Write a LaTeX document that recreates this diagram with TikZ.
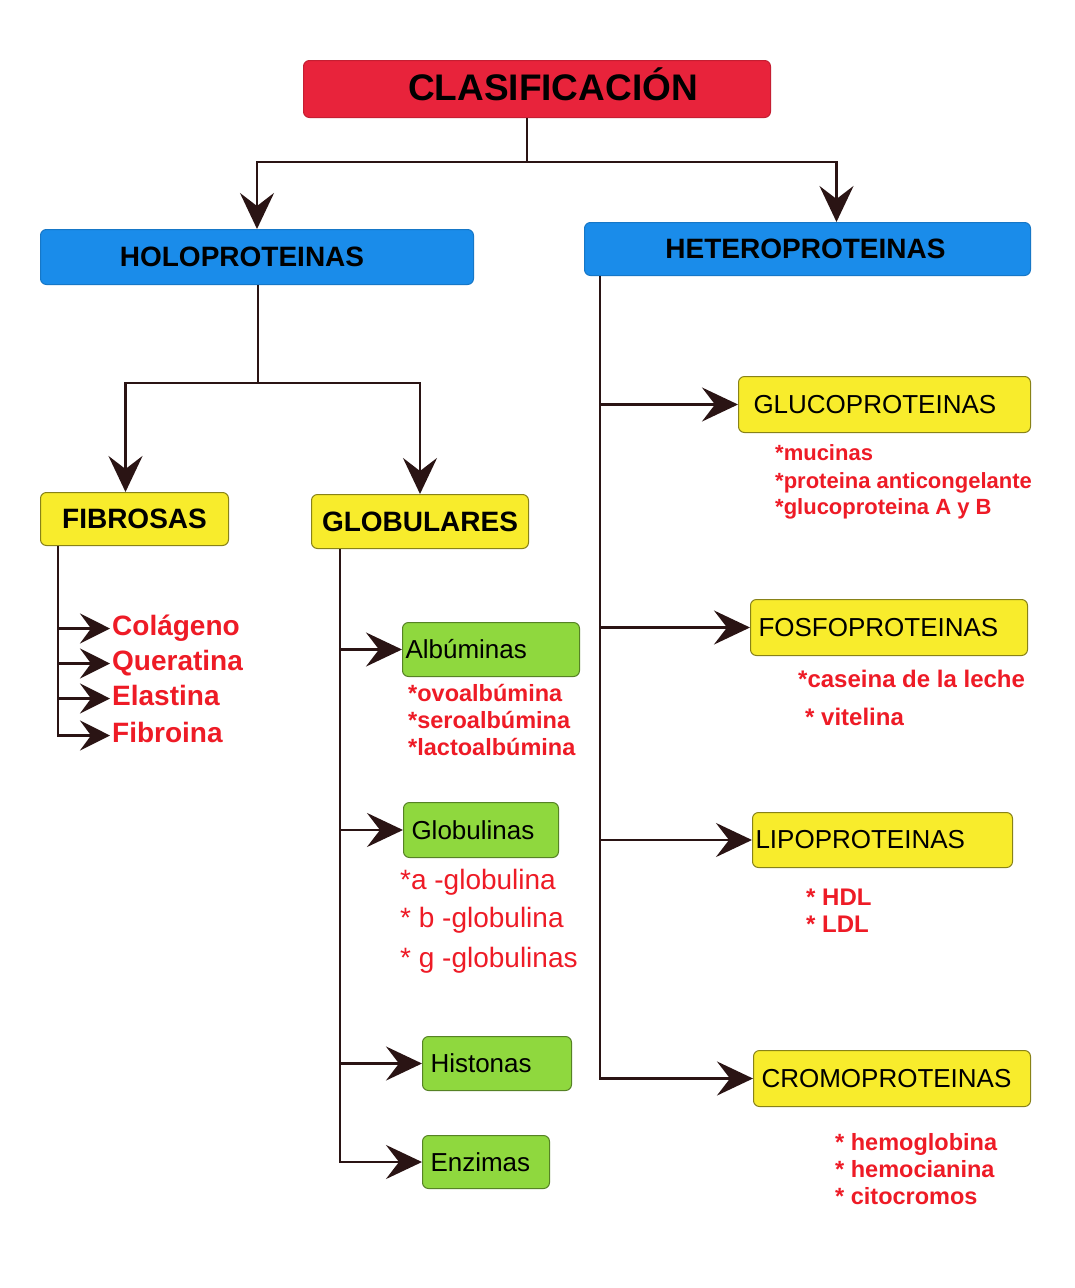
\documentclass[tikz,border=0pt]{standalone}
\usepackage{fontspec}
\setmainfont{Liberation Sans}
\usetikzlibrary{arrows.meta}

\definecolor{titlered}{HTML}{E8233B}
\definecolor{headblue}{HTML}{1A8CEA}
\definecolor{boxyellow}{HTML}{F8EC2C}
\definecolor{boxgreen}{HTML}{8FD83E}
\definecolor{itemred}{HTML}{EE1B26}
\definecolor{linedark}{HTML}{2A1414}

\tikzset{
    conn/.style={line width=2.8pt, draw=linedark},
    arr/.style={conn, -{Stealth[length=36pt,width=34pt,inset=13pt]}},
    smallarr/.style={conn, -{Stealth[length=30pt,width=30pt,inset=11pt]}},
    box/.style={rounded corners=6pt, anchor=north west, inner sep=0pt, line width=1pt},
    titlebox/.style={box, fill=titlered, draw=titlered!85!black,
        text height=26pt, text depth=3pt,
        font=\bfseries\fontsize{37}{40}\selectfont},
    headbox/.style={box, fill=headblue, draw=headblue!85!black,
        font=\bfseries\fontsize{28}{30}\selectfont},
    ybox/.style={box, fill=boxyellow, draw=boxyellow!55!black, inner xsep=8pt,
        align=left, font=\fontsize{26}{28}\selectfont},
    ybold/.style={box, fill=boxyellow, draw=boxyellow!55!black,
        font=\bfseries\fontsize{28}{30}\selectfont},
    gbox/.style={box, fill=boxgreen, draw=boxgreen!60!black, inner xsep=8pt,
        align=left, font=\fontsize{26}{28}\selectfont},
    bigitem/.style={anchor=base west, inner sep=2pt, text=itemred, text height=18pt,
        text depth=5pt, font=\bfseries\fontsize{28}{30}\selectfont},
    item/.style={anchor=base west, inner sep=0pt, text=itemred,
        font=\bfseries\fontsize{#1}{#1}\selectfont},
    item/.default=22,
    greekitem/.style={anchor=base west, inner sep=0pt, text=itemred,
        font=\fontsize{28}{30}\selectfont}
}

\begin{document}
\begin{tikzpicture}[x=1pt, y=-1pt]
    \useasboundingbox[fill=white] (0,0) rectangle (1075,1288);

    % top level
    \node[titlebox, minimum width=467, minimum height=57] (title) at (303,60)
        {\hspace*{32pt}CLASIFICACIÓN};
    \node[headbox, minimum width=433, minimum height=55] (holo) at (40,229)
        {HOLOPROTEINAS\hspace*{30pt}};
    \node[headbox, minimum width=446, minimum height=53] (het) at (584,222)
        {HETEROPROTEINAS\hspace*{4pt}};
    \coordinate (split) at (527,162);
    \draw[conn] (split |- title.south) -- (split);
    \draw[arr] (split) -| (holo.north);
    \draw[arr] (split) -| ([xshift=29pt]het.north);

    % holoproteinas
    \node[ybold, minimum width=188, minimum height=53] (fib) at (40,492) {FIBROSAS};
    \node[ybold, minimum width=217, minimum height=54] (glob) at (311,494) {GLOBULARES};
    \coordinate (holojoin) at (258,383);
    \draw[conn] (holojoin |- holo.south) -- (holojoin);
    \draw[arr] (holojoin) -| ([xshift=-9pt]fib.north);
    \draw[arr] (holojoin) -| (glob.north);

    % fibrosas
    \foreach \name/\txt/\y in {col/Colágeno/635, que/Queratina/670,
                               ela/Elastina/705, fibr/Fibroina/742}{
        \node[bigitem] (\name) at (110,\y) {\txt};
    }
    \coordinate (fibtop) at ([xshift=18pt]fib.south west);
    \foreach \n in {col,que,ela,fibr}
        \draw[smallarr] (fibtop) |- (\n.west);

    % globulares
    \node[gbox, inner xsep=3pt, text width=171, minimum height=54] (alb) at (402,622)
        {Albúminas};
    \node[gbox, text width=139, minimum height=55] (glo) at (403,802) {Globulinas};
    \node[gbox, text width=133, minimum height=54] (his) at (422,1036) {Histonas};
    \node[gbox, text width=111, minimum height=53] (enz) at (422,1135) {Enzimas};
    \coordinate (globtop) at ([xshift=29pt]glob.south west);
    \foreach \n in {alb,glo,his,enz}
        \draw[arr] (globtop) |- (\n.west);

    \foreach[count=\i] \txt/\y in {*ovoalbúmina/701, *seroalbúmina/728,
                                   *lactoalbúmina/755}{
        \node[item=23.5] (alb\i) at (408,\y) {\txt};
    }
    \node[greekitem] (glo1) at (400,889) {*a -globulina};
    \node[greekitem] (glo2) at (400,927) {* b -globulina};
    \node[greekitem] (glo3) at (400,967) {* g -globulinas};

    % heteroproteinas
    \node[ybox, inner xsep=15pt, text width=262, minimum height=56] (gluc) at (738,376)
        {GLUCOPROTEINAS};
    \node[ybox, text width=261, minimum height=56] (fosf) at (750,599) {FOSFOPROTEINAS};
    \node[ybox, inner xsep=3pt, text width=254, minimum height=55] (lipo) at (752,812)
        {LIPOPROTEINAS};
    \node[ybox, text width=261, minimum height=56] (crom) at (753,1050) {CROMOPROTEINAS};
    \coordinate (hettop) at ([xshift=16pt]het.south west);
    \foreach \n in {gluc,fosf,lipo,crom}
        \draw[arr] (hettop) |- (\n.west);

    \foreach[count=\i] \txt/\y in {*mucinas/460, *proteina anticongelante/488,
                                   *glucoproteina A y B/514}{
        \node[item] (gluc\i) at (775,\y) {\txt};
    }
    \node[item=24] (fosf1) at (798,687) {*caseina de la leche};
    \node[item=24] (fosf2) at (805,725) {* vitelina};
    \foreach[count=\i] \txt/\y in {* HDL/905, * LDL/932}{
        \node[item=24] (lipo\i) at (806,\y) {\txt};
    }
    \foreach[count=\i] \txt/\y in {* hemoglobina/1150, * hemocianina/1177,
                                   * citocromos/1204}{
        \node[item=23.5] (crom\i) at (835,\y) {\txt};
    }
\end{tikzpicture}
\end{document}
